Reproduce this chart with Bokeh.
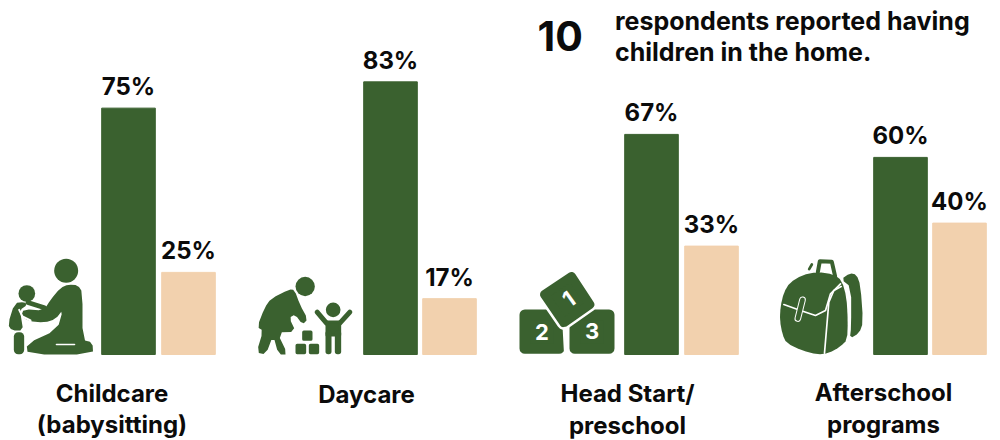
from bokeh.plotting import figure
from bokeh.models import Range1d, ColumnDataSource
from bokeh.core.properties import value
from bokeh.embed import file_html
from bokeh.resources import INLINE

categories = ["Childcare\n(babysitting)", "Daycare", "Head Start/\npreschool", "Afterschool\nprograms"]
yes_values = [75, 83, 67, 60]
no_values = [25, 17, 33, 40]
headline_number = "10"
headline_text = ["respondents reported having", "children in the home."]

GREEN = "#3a612f"
PEACH = "#f2d1ae"
INK = "#0b0b0b"
FONT = value("Inter")
BASE_PX = 354.0
PX_PER_PCT = 3.285
W, H = 1000, 440
BL = 0.40  # the alphabetic baseline lands this many em low in the svg output

p = figure(width=W, height=H, output_backend="svg", toolbar_location=None,
           x_range=Range1d(0, W),
           y_range=Range1d((BASE_PX - H) / PX_PER_PCT, BASE_PX / PX_PER_PCT),
           min_border=0, outline_line_color=None, background_fill_color="white")
p.axis.visible = False
p.grid.visible = False
p.extra_y_ranges = {"px": Range1d(H, 0)}

yes_x = [128, 390, 651, 900]
no_x = [188, 449, 711, 959]
BAR_W = 53.6
label_x = [111.5, 366, 627, 883]
label_y = [402.5, 403.5, 403, 402]

src = ColumnDataSource(dict(x=yes_x, top=yes_values))
p.vbar(x="x", top="top", bottom=0, width=BAR_W, color=GREEN, source=src)
src2 = ColumnDataSource(dict(x=no_x, top=no_values))
p.vbar(x="x", top="top", bottom=0, width=BAR_W, color=PEACH, source=src2)

def vals(xs, vs, color=INK):
    p.text(x=xs, y=vs, text=[f"{v}%" for v in vs], y_offset=-12 - BL * 24, text_font=FONT,
           text_font_style="bold", text_font_size="24px", text_align="center",
           text_baseline="alphabetic", text_color=color)
vals(yes_x, yes_values)
vals(no_x, no_values)

for cx, ly, c in zip(label_x, label_y, categories):
    for i, line in enumerate(c.split("\n")):
        p.text(x=[cx], y=[ly + 31.5 * i - BL * 24], y_range_name="px", text=[line], text_font=FONT,
               text_font_style="bold", text_font_size="24px", text_align="center",
               text_baseline="alphabetic", text_color=INK)

p.text(x=[537], y=[52 - BL * 41], y_range_name="px", text=[headline_number], text_font=FONT,
       text_font_style="bold", text_font_size="41px", text_baseline="alphabetic", text_color=INK)
for i, t in enumerate(headline_text):
    p.text(x=[614.5], y=[30.5 + 30.5 * i - BL * 25], y_range_name="px", text=[t], text_font=FONT,
           text_font_style="bold", text_font_size="25px", text_baseline="alphabetic", text_color=INK)

# ---- icons, traced in the zoomed crops (3x) -------------------------------
def chaikin(pts, n=1):
    for _ in range(n):
        out = []
        for i in range(len(pts)):
            a, b = pts[i], pts[(i + 1) % len(pts)]
            out.append((0.75 * a[0] + 0.25 * b[0], 0.75 * a[1] + 0.25 * b[1]))
            out.append((0.25 * a[0] + 0.75 * b[0], 0.25 * a[1] + 0.75 * b[1]))
        pts = out
    return pts

class Ico:
    def __init__(s, ox, oy):
        s.ox, s.oy = ox, oy
    def X(s, x): return s.ox + x / 3
    def Y(s, y): return s.oy + y / 3
    def poly(s, pts, color=GREEN, smooth=True, lw=0.0):
        q = chaikin(pts) if smooth else pts
        p.patch([s.X(a) for a, _ in q], [s.Y(b) for _, b in q], y_range_name="px",
                fill_color=color, line_color=color, line_width=lw, line_join="round")
    def circ(s, x, y, r, color=GREEN):
        p.circle(x=[s.X(x)], y=[s.Y(y)], radius=r / 3, y_range_name="px", color=color, line_width=0)
    def line(s, pts, w, color=GREEN):
        p.line([s.X(a) for a, _ in pts], [s.Y(b) for _, b in pts], y_range_name="px",
               line_color=color, line_width=w / 3, line_cap="round", line_join="round")
    def rrect(s, x0, y0, x1, y1, r=8, color=GREEN):
        q = [(x0 + r, y0 + r), (x1 - r, y0 + r), (x1 - r, y1 - r), (x0 + r, y1 - r)]
        p.patch([s.X(a) for a, _ in q], [s.Y(b) for _, b in q], y_range_name="px",
                fill_color=color, line_color=color, line_width=2 * r / 3, line_join="round")

a = Ico(0, 230)
# caregiver
a.circ(197, 121, 36)
a.poly([(180, 172), (204, 162), (232, 164), (246, 185), (246, 328), (276, 336), (278, 372), (82, 372), (78, 340),
        (170, 298), (188, 236), (165, 266), (132, 276), (84, 272), (62, 256), (70, 236), (130, 240), (150, 208)])
a.line([(168, 342), (222, 342)], 5, "white")
# child
a.circ(79, 189, 25)
a.poly([(72, 214), (42, 218), (22, 282), (34, 300), (68, 300), (62, 262), (58, 238), (80, 224)])
a.line([(82, 216), (132, 232)], 14)
a.line([(56, 238), (66, 258), (90, 270)], 6, "white")
a.rrect(40, 305, 71, 371, 13)

b = Ico(0, 230)
b.circ(914, 168, 29)
b.poly([(866, 177), (882, 178), (898, 222), (922, 266), (906, 282), (884, 252), (866, 262), (886, 304), (830, 306),
        (862, 372), (834, 372), (818, 314), (796, 372), (768, 366), (788, 300), (770, 290), (792, 232), (812, 204)])
b.rrect(905, 300, 936, 331, 5)
b.rrect(885, 340, 917, 371, 5)
b.rrect(925, 340, 956, 371, 5)
b.circ(998, 238, 22)
b.line([(950, 245), (978, 278)], 15)
b.line([(1048, 245), (1018, 278)], 15)
b.rrect(975, 270, 1022, 318, 4)
b.rrect(975, 300, 993, 371, 8)
b.rrect(1003, 300, 1022, 371, 8)

c = Ico(500, 230)
c.rrect(57, 237, 192, 370, 16)
c.rrect(207, 237, 342, 370, 16)
top_block = [(213, 138), (268, 222), (190, 277), (132, 192)]
c.poly(top_block, "white", smooth=False, lw=14)
c.poly(top_block, GREEN, smooth=False, lw=9)
c.line([(194, 296), (198, 370)], 15, "white")
for x, y, t, ang in [(124, 330, "2", 0), (275, 329, "3", 0), (205, 232, "1", 0.62)]:
    p.text(x=[c.X(x)], y=[c.Y(y) - BL * 22], y_range_name="px", text=[t], angle=ang, text_font=FONT,
           text_font_style="bold", text_font_size="22px", text_align="center",
           text_baseline="alphabetic", text_color="white")

d = Ico(500, 230)
d.line([(952, 125), (958, 92), (994, 94), (1004, 138)], 12)
d.line([(926, 116), (934, 102)], 8)
d.poly([(1022, 146), (1048, 128), (1068, 132), (1080, 165), (1088, 275), (1076, 308), (1048, 324), (1052, 290), (1052, 170)])
d.poly([(840, 228), (850, 186), (868, 156), (905, 134), (950, 124), (1000, 132), (1024, 150), (1038, 200), (1042, 270),
        (1040, 328), (1020, 348), (985, 368), (950, 372), (905, 360), (858, 338), (846, 312), (838, 270)])
d.line([(850, 222), (900, 240), (945, 255), (975, 240), (990, 190), (1020, 160)], 5, "white")
d.line([(972, 368), (985, 215), (1000, 180), (1022, 168)], 5, "white")
d.line([(906, 208), (892, 264)], 20, "white")
d.line([(906, 208), (892, 264)], 14)

open("out.html", "w").write(file_html(p, INLINE))
